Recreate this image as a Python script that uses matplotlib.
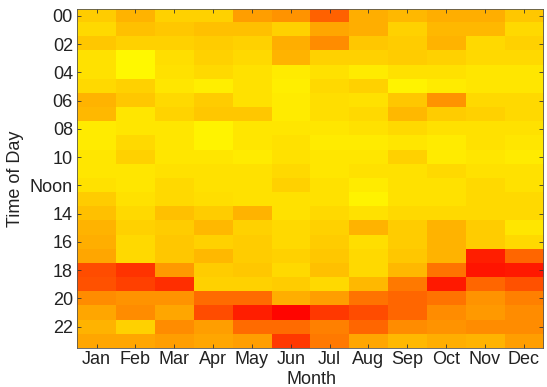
import numpy as np
import matplotlib
matplotlib.use('Agg')
from matplotlib import pyplot as plt

plt.rcParams['font.family'] = ['Liberation Sans', 'DejaVu Sans']

months = ['Jan', 'Feb', 'Mar', 'Apr', 'May', 'Jun',
          'Jul', 'Aug', 'Sep', 'Oct', 'Nov', 'Dec']
hour_ticks = [0, 2, 4, 6, 8, 10, 12, 14, 16, 18, 20, 22]
hour_labels = ['00', '02', '04', '06', '08', '10', 'Noon',
               '14', '16', '18', '20', '22']

# one value per hour (00..23), 1 = yellow, 0 = red
jan = [0.80, 0.85, 0.78, 0.88, 0.88, 0.85, 0.70, 0.72, 0.92, 0.92, 0.90, 0.90,
       0.88, 0.80, 0.75, 0.70, 0.68, 0.65, 0.30, 0.32, 0.55, 0.65, 0.70, 0.65]
feb = [0.70, 0.75, 0.82, 0.97, 0.97, 0.82, 0.78, 0.90, 0.90, 0.85, 0.82, 0.90,
       0.90, 0.88, 0.85, 0.82, 0.85, 0.85, 0.20, 0.25, 0.58, 0.55, 0.82, 0.65]
mar = [0.82, 0.78, 0.82, 0.87, 0.88, 0.90, 0.85, 0.83, 0.90, 0.90, 0.90, 0.88,
       0.85, 0.85, 0.75, 0.80, 0.78, 0.78, 0.60, 0.18, 0.58, 0.65, 0.55, 0.62]
apr = [0.82, 0.75, 0.80, 0.82, 0.85, 0.93, 0.80, 0.78, 0.95, 0.95, 0.90, 0.88,
       0.88, 0.87, 0.80, 0.72, 0.82, 0.72, 0.80, 0.82, 0.42, 0.30, 0.62, 0.65]
may = [0.62, 0.75, 0.82, 0.85, 0.88, 0.88, 0.88, 0.78, 0.90, 0.90, 0.92, 0.88,
       0.88, 0.88, 0.70, 0.82, 0.80, 0.80, 0.78, 0.82, 0.42, 0.12, 0.42, 0.62]
jun = [0.58, 0.82, 0.68, 0.70, 0.92, 0.93, 0.92, 0.92, 0.90, 0.88, 0.88, 0.85,
       0.82, 0.88, 0.88, 0.85, 0.85, 0.82, 0.85, 0.80, 0.68, 0.02, 0.42, 0.22]
jul = [0.38, 0.65, 0.55, 0.82, 0.88, 0.85, 0.87, 0.87, 0.90, 0.92, 0.90, 0.90,
       0.88, 0.88, 0.85, 0.82, 0.80, 0.78, 0.75, 0.85, 0.62, 0.22, 0.50, 0.48]
aug = [0.68, 0.68, 0.78, 0.82, 0.92, 0.82, 0.88, 0.85, 0.88, 0.92, 0.90, 0.88,
       0.92, 0.95, 0.88, 0.70, 0.87, 0.85, 0.85, 0.72, 0.45, 0.30, 0.40, 0.65]
sep = [0.72, 0.82, 0.80, 0.80, 0.88, 0.95, 0.78, 0.72, 0.85, 0.90, 0.82, 0.88,
       0.88, 0.88, 0.85, 0.80, 0.80, 0.78, 0.72, 0.48, 0.40, 0.40, 0.55, 0.72]
oct_ = [0.68, 0.72, 0.70, 0.82, 0.88, 0.92, 0.58, 0.80, 0.88, 0.92, 0.92, 0.85,
        0.88, 0.88, 0.85, 0.70, 0.70, 0.70, 0.45, 0.10, 0.45, 0.55, 0.58, 0.68]
nov = [0.68, 0.72, 0.85, 0.85, 0.90, 0.90, 0.85, 0.82, 0.88, 0.88, 0.90, 0.88,
       0.85, 0.85, 0.85, 0.80, 0.80, 0.12, 0.08, 0.40, 0.58, 0.60, 0.55, 0.70]
dec = [0.78, 0.85, 0.82, 0.85, 0.90, 0.90, 0.85, 0.85, 0.88, 0.90, 0.92, 0.88,
       0.88, 0.85, 0.85, 0.90, 0.85, 0.40, 0.10, 0.32, 0.50, 0.55, 0.55, 0.62]

data = np.column_stack([jan, feb, mar, apr, may, jun,
                        jul, aug, sep, oct_, nov, dec])

fig = plt.figure(figsize=(5.47, 3.87), dpi=100)
ax = fig.add_axes([0.141, 0.101, 0.852, 0.876])
ax.imshow(data, aspect='auto', cmap='autumn', vmin=0, vmax=1,
          interpolation='nearest')

fs = 13
ax.set_xticks(range(12))
ax.set_xticklabels(months, fontsize=fs, color='#222222')
ax.set_yticks(hour_ticks)
ax.set_yticklabels(hour_labels, fontsize=fs, color='#222222')
ax.tick_params(axis='x', pad=2)
ax.tick_params(axis='y', pad=3)
ax.tick_params(direction='in', length=3, width=0.6, color='#333333',
               top=True, right=True)
ax.set_xlabel('Month', fontsize=fs, color='#222222')
ax.set_ylabel('Time of Day', fontsize=fs, color='#222222')
ax.xaxis.set_label_coords(0.502, -0.068)
ax.yaxis.set_label_coords(-0.114, 0.5)
for s in ax.spines.values():
    s.set_linewidth(0.6)
    s.set_color('#555555')

fig.savefig('out.png', dpi=100)
